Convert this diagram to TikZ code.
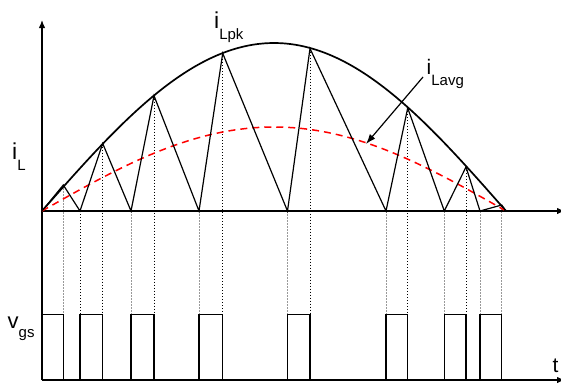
\documentclass[tikz,border=0pt]{standalone}
\usepackage{fontspec}
\setmainfont{Liberation Sans}
\usetikzlibrary{arrows.meta}
\newcommand\lsub[2][15]{\raisebox{-11.5pt}{\fontsize{#1}{#1}\selectfont #2}}
\begin{document}
\begin{tikzpicture}[x=1pt,y=-1pt,
  axis/.style={line width=1.3pt, -{Latex[length=8pt,width=6.5pt]}},
  env/.style={line width=1.7pt},
  avg/.style={red, line width=1.5pt, dash pattern=on 7pt off 5pt},
  tri/.style={line width=1.2pt, line join=miter},
  pulse/.style={line width=1.2pt},
  dk/.style={line width=0.9pt, dash pattern=on 0.9pt off 2.1pt},
  gr/.style={gray!80, line width=0.9pt, dash pattern=on 1.5pt off 1.5pt},
  lbl/.style={inner sep=0pt, anchor=base west, font=\fontsize{23}{23}\selectfont},
]
\useasboundingbox (0,0) rectangle (561,383);
% reference levels
\coordinate (gt) at (0,314.3);
\coordinate (gb) at (0,380);
\coordinate (o) at (42,211);
\coordinate (ytop) at (42,20);
\coordinate (xend) at (565,211);
\coordinate (ob) at (42,380);
\coordinate (tend) at (565,380);
% triangle peaks and valleys
\coordinate (v0) at (42,211);
\coordinate (p1) at (63.3,185);
\coordinate (v1) at (80,211);
\coordinate (p2) at (102.7,143.5);
\coordinate (v2) at (131,211);
\coordinate (p3) at (154,95.7);
\coordinate (v3) at (199,211);
\coordinate (p4) at (222.7,53.3);
\coordinate (v4) at (287.5,211);
\coordinate (p5) at (310,48.5);
\coordinate (v5) at (386,211);
\coordinate (p6) at (407.7,108);
\coordinate (v6) at (444.3,211);
\coordinate (p7) at (466,167);
\coordinate (v7) at (480,211);
\coordinate (p8) at (501.7,205);
\coordinate (v8) at (506,211);

% dotted projection lines
\foreach \n in {p2,v1,p3,p4,p5,p6,p7}
  \draw[dk] (\n) -- (\n |- gt);
\foreach \n in {p1,v2,v3,v4,v5,v6,v7,p8}
  \draw[gr] (\n) -- (\n |- gt);

% axes
\draw[axis] (ob) -- (ytop);
\draw[axis] (o) -- (xend);
\draw[axis] (ob) -- (tend);

% envelope and average
\draw[env] plot[domain=42:506, samples=120, smooth] (\x, {211-168*sin((\x-42)*0.387931)});
\draw[avg] plot[domain=42:504, samples=80, smooth] (\x, {211-84*sin((\x-42)*0.387931)});

% triangular inductor current
\draw[tri] (v0) -- (p1) -- (v1) -- (p2) -- (v2) -- (p3) -- (v3) -- (p4) -- (v4)
  -- (p5) -- (v5) -- (p6) -- (v6) -- (p7) -- (v7) -- (p8) -- (v8);

% gate pulses
\foreach \a/\b in {v0/p1,v1/p2,v2/p3,v3/p4,v4/p5,v5/p6,v6/p7,v7/p8}
  \draw[pulse] (\a |- gb) -- (\a |- gt) -- (\b |- gt) -- (\b |- gb);

% labels
\node[lbl] (iL) at (12,159) {i\lsub{L}};
\node[lbl] (ipk) at (214,28) {i\lsub{Lpk}};
\node[lbl, font=\fontsize{21}{21}\selectfont] (iavg) at (426.5,74) {i\lsub{Lavg}};
\node[lbl, font=\fontsize{22}{22}\selectfont] (vgs) at (7.5,328) {v\raisebox{-9pt}{\fontsize{15}{15}\selectfont gs}};
\node[lbl, font=\fontsize{21}{21}\selectfont] (t) at (552.5,372) {t};

\coordinate (atip) at (366,144);
\coordinate (astart) at (423,77);
\draw[line width=1.2pt, -{Latex[length=10pt,width=7pt]}] (astart) -- (atip);
\end{tikzpicture}
\end{document}
